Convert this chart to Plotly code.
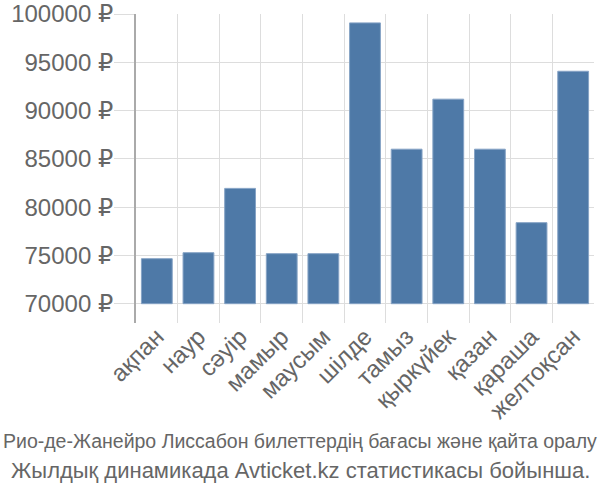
import plotly.graph_objects as go

months = ["ақпан", "наур", "сәуір", "мамыр", "маусым", "шілде", "тамыз",
          "қыркүйек", "қазан", "қараша", "желтоқсан"]
prices = [74660, 75280, 81940, 75180, 75180, 99080, 86000, 91180, 86000, 78390, 94070]
base_value = 70000
y_ticks = [70000, 75000, 80000, 85000, 90000, 95000, 100000]
y_tick_labels = [f"{v} ₽" for v in y_ticks]
caption_lines = ["Рио-де-Жанейро Лиссабон билеттердің бағасы және қайта оралу",
                 "Жылдық динамикада Avticket.kz статистикасы бойынша."]

xs = list(range(len(months)))

fig = go.Figure()
fig.add_trace(go.Bar(
    x=xs,
    y=[p - base_value for p in prices],
    base=base_value,
    width=0.74,
    marker=dict(color="#4e79a7", line=dict(color="#86a3c5", width=1)),
    hovertext=[f"{m}: {p} ₽" for m, p in zip(months, prices)],
    hoverinfo="text",
))

font_main = "Liberation Sans, Arial, DejaVu Sans, sans-serif"

fig.update_layout(
    width=600, height=500,
    margin=dict(l=136, r=6, t=14, b=177),
    paper_bgcolor="white", plot_bgcolor="white",
    showlegend=False,
    font=dict(family=font_main, size=22, color="#666666"),
    xaxis=dict(
        range=[-0.5, len(months) - 0.5],
        tickmode="array", tickvals=xs, ticktext=months,
        tickangle=-45, showgrid=False, zeroline=False,
        ticks="", showline=False, automargin=False,
        ticklabelstandoff=-6,
        tickfont=dict(size=24, color="#666666"),
        minor=dict(tickmode="array",
                   tickvals=[i - 0.5 for i in range(len(months) + 1)],
                   showgrid=True, gridcolor="#dddddd", gridwidth=1, ticks=""),
    ),
    yaxis=dict(
        range=[68000, 100000],
        tickmode="array", tickvals=y_ticks, ticktext=y_tick_labels,
        showgrid=True, gridcolor="#dddddd", gridwidth=1,
        ticks="outside", ticklen=20, tickcolor="#dddddd", tickwidth=1,
        ticklabelstandoff=-4,
        showline=True, linecolor="#aaaaaa", linewidth=2,
        zeroline=False, automargin=False,
        tickfont=dict(size=24, color="#666666"),
    ),
)

plot_h = 500 - 14 - 177
plot_w = 600 - 136 - 6
for text, ypx, size in zip(caption_lines, [441, 470], [19.5, 22]):
    fig.add_annotation(
        text=text, x=(300 - 136) / plot_w, y=(500 - 177 - ypx) / plot_h,
        xref="paper", yref="paper", showarrow=False,
        font=dict(family=font_main, size=size, color="#666666"),
        xanchor="center", yanchor="middle",
    )

fig.write_html("out.html")
